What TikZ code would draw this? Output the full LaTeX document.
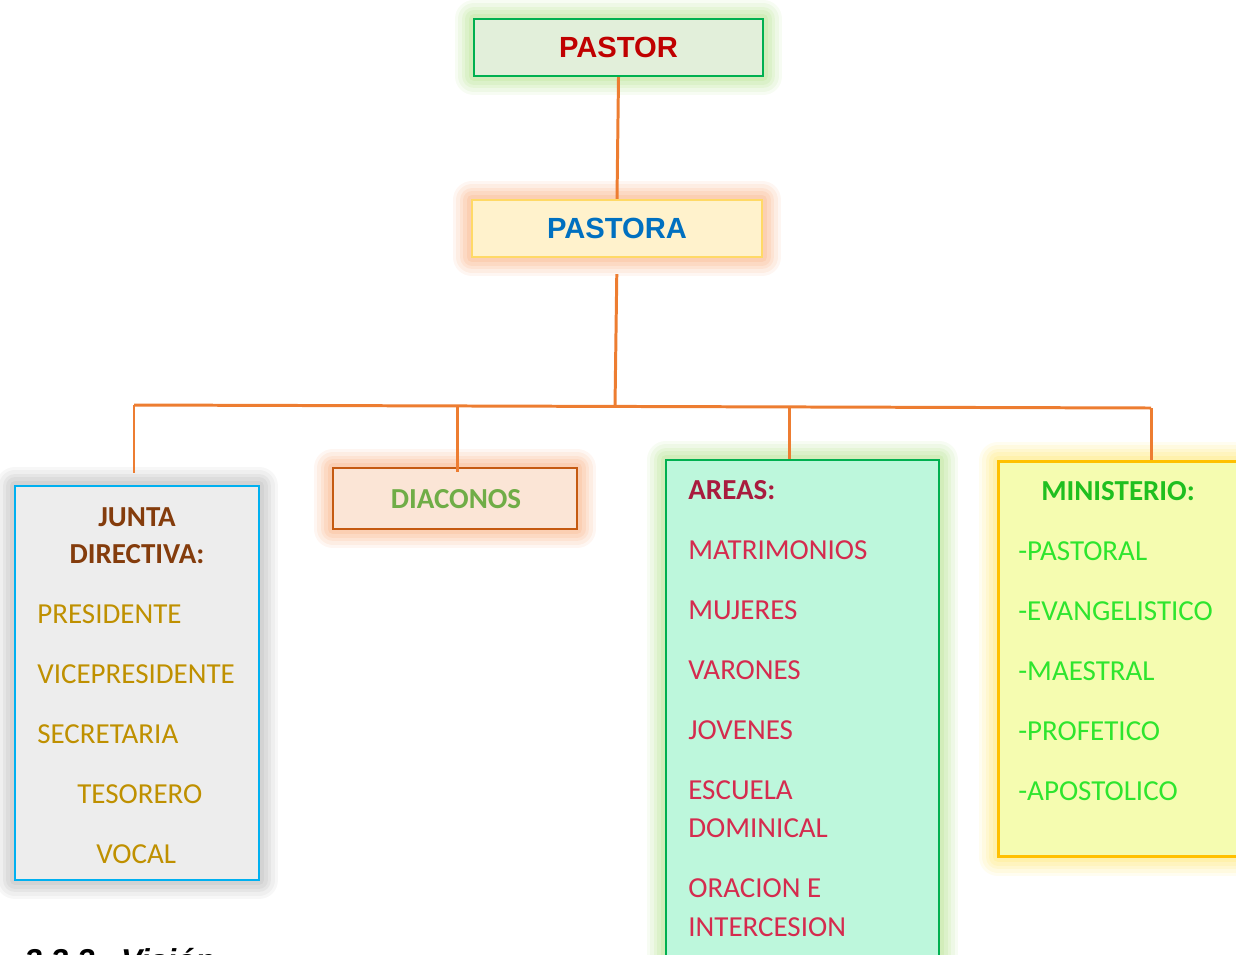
\documentclass[tikz,border=0pt]{standalone}
\usepackage{fontspec}
\setmainfont{Carlito}
\newfontfamily\arialfont{Liberation Sans}
\usetikzlibrary{positioning}

\definecolor{linea}{HTML}{ED7D31}
\definecolor{verdeborde}{HTML}{00B050}
\definecolor{verdebrillo}{HTML}{A6DC78}
\definecolor{naranjabrillo}{HTML}{F7A06A}
\definecolor{amarilloborde}{HTML}{FFD966}
\definecolor{celeste}{HTML}{00B0F0}
\definecolor{grisbrillo}{HTML}{A8A8A8}
\definecolor{naranjaborde}{HTML}{C55A11}
\definecolor{oroborde}{HTML}{FFC000}
\definecolor{amarillobrillo}{HTML}{FFE45C}
\definecolor{rojopastor}{HTML}{C00000}
\definecolor{azulpastora}{HTML}{0070C0}
\definecolor{marron}{HTML}{843C0C}
\definecolor{oro}{HTML}{BF9000}
\definecolor{verdediac}{HTML}{70AD47}
\definecolor{carmin}{HTML}{A91B3E}
\definecolor{rosa}{HTML}{D52B4E}
\definecolor{verdemin}{HTML}{1FBF1F}
\definecolor{verdeclaro}{HTML}{2EE52E}

\tikzset{
  caja/.style={draw, line width=1.4pt, inner sep=0pt},
  brillo/.style={
    preaction={draw=#1, opacity=.09, line width=22pt, line join=round},
    preaction={draw=#1, opacity=.11, line width=18pt, line join=round},
    preaction={draw=#1, opacity=.13, line width=14pt, line join=round},
    preaction={draw=#1, opacity=.15, line width=10pt, line join=round},
    preaction={draw=#1, opacity=.18, line width=6pt, line join=round}},
  jefe/.style={caja, font=\arialfont\bfseries\fontsize{16.6}{20}\selectfont},
  item/.style={anchor=base west, inner sep=0pt, font=\fontsize{16.5}{20}\selectfont},
  cabeza/.style={inner sep=0pt, font=\bfseries\fontsize{16.5}{20}\selectfont},
  conector/.style={draw=linea, line width=1.7pt},
}

\begin{document}
\begin{tikzpicture}[x=0.02cm, y=-0.02cm]
			%%%%% START %%%%%
			\useasboundingbox (0,0) rectangle (1236,954);
			\clip (0,0) rectangle (1236,954);
			
			% cajas de arriba
			\node[jefe, brillo=verdebrillo, draw=verdeborde, fill={rgb,255:red,226;green,239;blue,218},
			      minimum width=5.78cm, minimum height=1.14cm, text=rojopastor] (pastor) at (618.5, 47.5) {PASTOR};
			\node[jefe, brillo=naranjabrillo, draw=amarilloborde, fill={rgb,255:red,255;green,242;blue,204},
			      minimum width=5.8cm, minimum height=1.14cm, text=azulpastora] (pastora) at (617, 228.5) {PASTORA};
			
			% cajas de abajo
			\node[caja, brillo=grisbrillo, draw=celeste, fill={rgb,255:red,237;green,237;blue,237},
			      minimum width=4.88cm, minimum height=7.88cm] (junta) at (137, 683) {};
			\node[caja, brillo=naranjabrillo, draw=naranjaborde, fill={rgb,255:red,251;green,229;blue,214},
			      minimum width=4.88cm, minimum height=1.22cm] (diaconos) at (455, 498.5) {};
			\node[caja, brillo=verdebrillo, draw=verdeborde, fill={rgb,255:red,189;green,247;blue,220},
			      minimum width=5.46cm, minimum height=10.8cm] (areas) at (802.5, 730) {};
			\node[caja, brillo=amarillobrillo, draw=oroborde, line width=1.7pt, fill={rgb,255:red,245;green,252;blue,176},
			      minimum width=5.44cm, minimum height=7.92cm] (ministerio) at (1134, 659) {};
			
			% textos
			\node[cabeza, anchor=base, text=marron] (junta1) at (137, 526) {JUNTA};
			\node[cabeza, anchor=base, text=marron] (junta2) at (137, 563) {DIRECTIVA:};
			\node[item, text=oro] (presidente) at (37, 623) {PRESIDENTE};
			\node[item, text=oro] (vice) at (37, 683) {VICEPRESIDENTE};
			\node[item, text=oro] (secretaria) at (37, 743) {SECRETARIA};
			\node[item, text=oro] (tesorero) at (77, 803) {TESORERO};
			\node[item, text=oro] (vocal) at (96, 863) {VOCAL};
			
			\node[cabeza, anchor=base, text=verdediac] (diac) at (456, 508) {DIACONOS};
			
			\node[cabeza, anchor=base west, text=carmin] (areas0) at (688, 499) {AREAS:};
			\foreach \t [count=\i] in {MATRIMONIOS, MUJERES, VARONES, JOVENES, ESCUELA}
			  \node[item, text=rosa] (areas\i) at (688, 499+60*\i) {\t};
			\node[item, text=rosa] (areas6) at (688, 837) {DOMINICAL};
			\node[item, text=rosa] (areas7) at (688, 897) {ORACION E};
			\node[item, text=rosa] (areas8) at (688, 936) {INTERCESION};
			
			\node[cabeza, anchor=base, text=verdemin] (min0) at (1118, 500) {MINISTERIO:};
			\foreach \t [count=\i] in {PASTORAL, EVANGELISTICO, MAESTRAL, PROFETICO, APOSTOLICO}
			  \node[item, text=verdeclaro] (min\i) at (1018, 500+60*\i) {-\t};
			
			% lineas
			\coordinate (b1) at (134, 405);
			\coordinate (b2) at (457, 406);
			\coordinate (bus) at (615, 406.5);
			\coordinate (b3) at (789, 407.5);
			\coordinate (b4) at (1151, 408);
			
			\draw[conector] (pastor.south) -- (pastora.north);
			\draw[conector, shorten <=9pt] (pastora.south) -- (bus);
			\draw[conector] (b1) -- (b4);
			\draw[conector, shorten >=7pt] (b1) -- (b1 |- junta.north);
			\draw[conector, shorten >=-3pt] (b2) -- (b2 |- diaconos.north);
			\draw[conector] (b3) -- (b3 |- areas.north);
			\draw[conector] (b4) -- (b4 |- ministerio.north);
			
			% titulo cortado por el borde de la pagina
			\node[anchor=base west, inner sep=0pt, font=\arialfont\bfseries\itshape\fontsize{18}{22}\selectfont] (vision) at (24, 971) {2.2.3.\ \ Visión};
			
			%%%%% END %%%%%
		\end{tikzpicture}
\end{document}
